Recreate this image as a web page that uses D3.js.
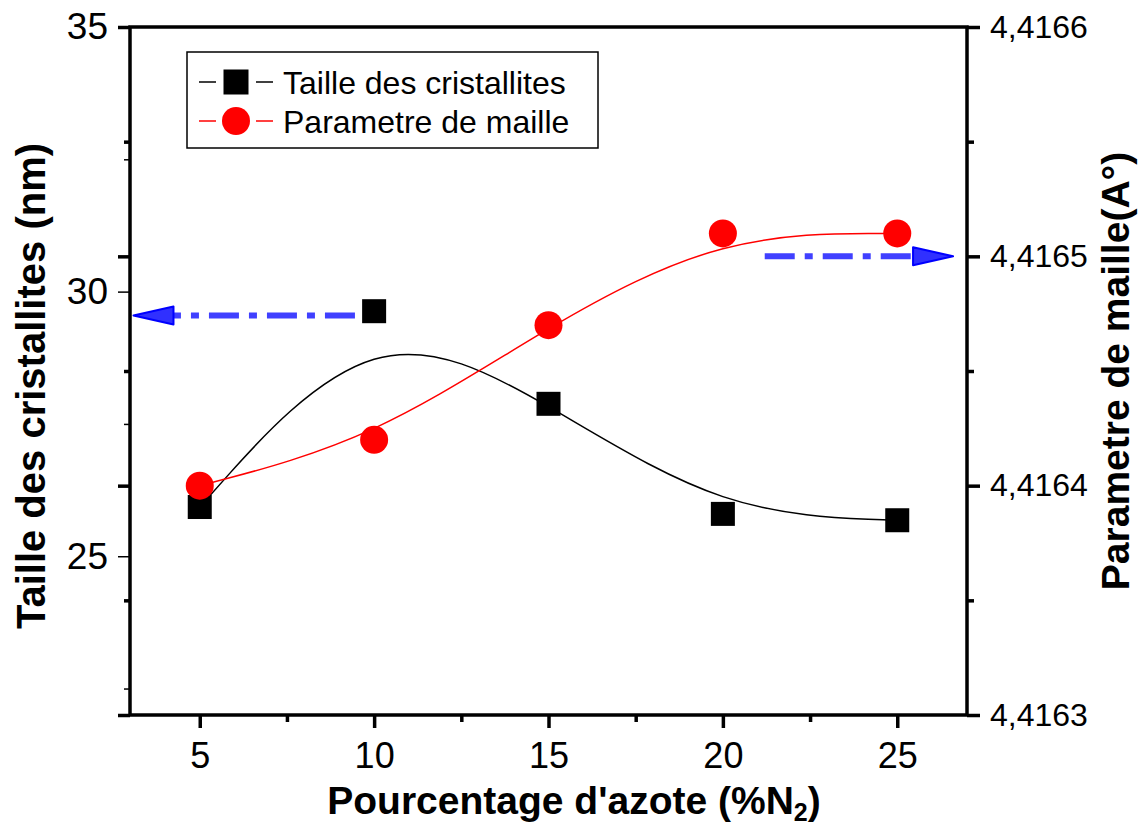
<!DOCTYPE html>
<html>
<head>
<meta charset="utf-8">
<script src="https://cdnjs.cloudflare.com/ajax/libs/d3/7.8.5/d3.min.js"></script>
<style>
body { margin: 0; background: #fff; }
text { font-family: "Liberation Sans", Arial, sans-serif; fill: #000; }
</style>
</head>
<body>
<div id="chart"></div>
<script>
// data
var nitrogen = [5, 10, 15, 20, 25];
var crystalSize = [25.93, 29.63, 27.88, 25.80, 25.68];
var latticeParam = [4.41640, 4.41642, 4.41647, 4.41651, 4.41651];

var xTicks = [5, 10, 15, 20, 25];
var xMinor = [7.5, 12.5, 17.5, 22.5];
var leftTicks = [25, 30, 35];
var leftMinor = [22.5, 27.5, 32.5];
var rightTicks = [4.4163, 4.4164, 4.4165, 4.4166];
var rightMinor = [4.41635, 4.41645, 4.41655];

// annotation arrows (which axis they refer to)
var arrows = [
    { axis: "left", from: [9.45, 29.55], to: [3.1, 29.55] },
    { axis: "right", from: [21.2, 4.4165], to: [26.6, 4.4165] }
];

var W = 1146, H = 829;
var svg = d3.select("#chart").append("svg").attr("width", W).attr("height", H);

var x = d3.scaleLinear().domain([3, 27]).range([130, 967]);
var yL = d3.scaleLinear().domain([22, 35]).range([715, 27]);
var yR = d3.scaleLinear().domain([4.4163, 4.4166]).range([715, 27]);

var commaFmt = function (d) { return d3.format(".4f")(d).replace(".", ","); };

function tickGroup(axis, transform, width) {
    var g = svg.append("g").attr("transform", transform).call(axis);
    g.select(".domain").remove();
    g.selectAll(".tick line").attr("stroke", "#000").attr("stroke-width", width);
    return g;
}

// bottom axis
tickGroup(d3.axisBottom(x).tickValues(xMinor).tickSize(7).tickFormat(""), "translate(0,715)", 3.5);
var gx = tickGroup(d3.axisBottom(x).tickValues(xTicks).tickSize(13).tickPadding(14).tickFormat(d3.format("d")), "translate(0,715)", 3.5);
gx.selectAll("text").attr("font-size", 36).attr("font-family", "Liberation Sans, Arial, sans-serif");

// left axis: its own thin ticks plus the right-layer ticks mirrored
tickGroup(d3.axisLeft(yR).tickValues(rightMinor).tickSize(6).tickFormat(""), "translate(130,0)", 3.5);
tickGroup(d3.axisLeft(yR).tickValues(rightTicks).tickSize(12).tickFormat(""), "translate(130,0)", 3.5);
tickGroup(d3.axisLeft(yL).tickValues(leftMinor).tickSize(6).tickFormat(""), "translate(130,0)", 1.5);
var gl = tickGroup(d3.axisLeft(yL).tickValues(leftTicks).tickSize(12).tickPadding(10).tickFormat(d3.format("d")), "translate(130,0)", 1.5);
gl.selectAll("text").attr("font-size", 37).attr("font-family", "Liberation Sans, Arial, sans-serif");

// right axis
tickGroup(d3.axisRight(yR).tickValues(rightMinor).tickSize(7).tickFormat(""), "translate(967,0)", 3.5);
var gr = tickGroup(d3.axisRight(yR).tickValues(rightTicks).tickSize(13).tickPadding(10).tickFormat(commaFmt), "translate(967,0)", 3.5);
gr.selectAll("text").attr("font-size", 32).attr("font-family", "Liberation Sans, Arial, sans-serif");

// frame
svg.append("rect")
    .attr("x", x.range()[0]).attr("y", yL.range()[1])
    .attr("width", x.range()[1] - x.range()[0])
    .attr("height", yL.range()[0] - yL.range()[1])
    .attr("fill", "none").attr("stroke", "#000").attr("stroke-width", 3.5);

// fitted curves
var lineL = d3.line().x(function (d, i) { return x(nitrogen[i]); }).y(function (d) { return yL(d); }).curve(d3.curveBasis);
var lineR = d3.line().x(function (d, i) { return x(nitrogen[i]); }).y(function (d) { return yR(d); }).curve(d3.curveBasis);

svg.append("path").attr("d", lineL(crystalSize))
    .attr("fill", "none").attr("stroke", "#000").attr("stroke-width", 1.5);
svg.append("path").attr("d", lineR(latticeParam))
    .attr("fill", "none").attr("stroke", "#ff0000").attr("stroke-width", 1.5);

// markers
var sq = 24;
svg.append("g").selectAll("rect").data(crystalSize).enter().append("rect")
    .attr("x", function (d, i) { return x(nitrogen[i]) - sq / 2; })
    .attr("y", function (d) { return yL(d) - sq / 2; })
    .attr("width", sq).attr("height", sq).attr("fill", "#000");
svg.append("g").selectAll("circle").data(latticeParam).enter().append("circle")
    .attr("cx", function (d, i) { return x(nitrogen[i]); })
    .attr("cy", function (d) { return yR(d); })
    .attr("r", 14).attr("fill", "#ff0000");

// arrows
arrows.forEach(function (a) {
    var ys = a.axis === "left" ? yL : yR;
    var x1 = x(a.from[0]), y1 = ys(a.from[1]);
    var x2 = x(a.to[0]), y2 = ys(a.to[1]);
    var dir = x2 > x1 ? 1 : -1;
    var headLen = 40, headW = 9;
    svg.append("line")
        .attr("x1", x1).attr("y1", y1).attr("x2", x2 - dir * headLen).attr("y2", y2)
        .attr("stroke", "#4040ff").attr("stroke-width", 6)
        .attr("stroke-dasharray", "30,10,8,10");
    svg.append("path")
        .attr("d", "M" + x2 + "," + y2 + "L" + (x2 - dir * headLen) + "," + (y2 - headW) +
            "L" + (x2 - dir * headLen) + "," + (y2 + headW) + "Z")
        .attr("fill", "#3030ff").attr("stroke", "#0000ff").attr("stroke-width", 2)
        .attr("stroke-linejoin", "round");
});

// legend
var legend = svg.append("g");
legend.append("rect").attr("x", 187).attr("y", 52).attr("width", 411).attr("height", 96)
    .attr("fill", "#fff").attr("stroke", "#000").attr("stroke-width", 1.5);
var legendItems = [
    { label: "Taille des cristallites", color: "#000", shape: "square" },
    { label: "Parametre de maille", color: "#ff0000", shape: "circle" }
];
legendItems.forEach(function (it, i) {
    var cy = 82 + i * 39;
    legend.append("line").attr("x1", 199).attr("x2", 216).attr("y1", cy).attr("y2", cy)
        .attr("stroke", it.color).attr("stroke-width", 1.5);
    legend.append("line").attr("x1", 256).attr("x2", 273).attr("y1", cy).attr("y2", cy)
        .attr("stroke", it.color).attr("stroke-width", 1.5);
    if (it.shape === "square") {
        legend.append("rect").attr("x", 236 - 12.5).attr("y", cy - 12.5)
            .attr("width", 25).attr("height", 25).attr("fill", it.color);
    } else {
        legend.append("circle").attr("cx", 236).attr("cy", cy).attr("r", 14).attr("fill", it.color);
    }
    legend.append("text").attr("x", 283).attr("y", cy + 11.5)
        .attr("font-size", 32).text(it.label);
});

// axis titles
var xt = svg.append("text").attr("x", 574).attr("y", 814).attr("text-anchor", "middle")
    .attr("font-size", 39).attr("font-weight", "bold");
xt.append("tspan").text("Pourcentage d'azote (%N");
xt.append("tspan").attr("font-size", 25).attr("dy", 7).text("2");
xt.append("tspan").attr("dy", -7).text(")");

svg.append("text").attr("transform", "translate(45,386) rotate(-90)").attr("text-anchor", "middle")
    .attr("font-size", 40).attr("font-weight", "bold").text("Taille des cristallites (nm)");
svg.append("text").attr("transform", "translate(1129,371) rotate(-90)").attr("text-anchor", "middle")
    .attr("font-size", 39).attr("font-weight", "bold").text("Parametre de maille(A°)");
</script>
</body>
</html>
